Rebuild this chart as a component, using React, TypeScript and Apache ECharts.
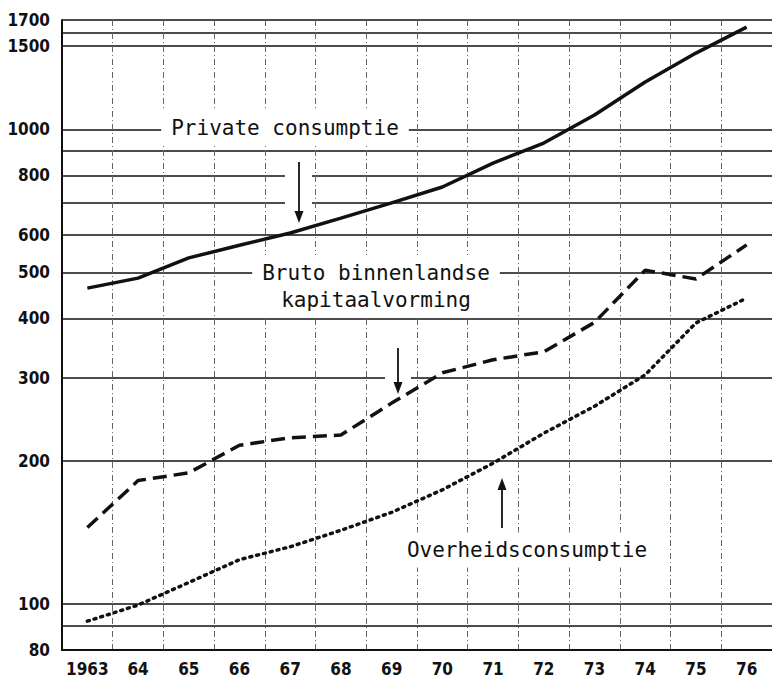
import React, { useEffect, useRef } from "react";
import * as echarts from "echarts";

const years = ["1963", "64", "65", "66", "67", "68", "69", "70", "71", "72", "73", "74", "75", "76"];
const privateConsumptie = [463, 486, 536, 570, 605, 650, 700, 756, 849, 936, 1072, 1258, 1448, 1642];
const brutoKapitaalvorming = [145, 182, 189, 216, 224, 227, 265, 307, 327, 340, 392, 505, 484, 571];
const overheidsconsumptie = [92, 99.5, 111, 124, 132, 143, 156, 174, 198, 229, 261, 304, 391, 441];
const gridValues = [80, 90, 100, 200, 300, 400, 500, 600, 700, 800, 900, 1000, 1500, 1600, 1700];
const labelValues = [80, 100, 200, 300, 400, 500, 600, 800, 1000, 1500, 1700];

const axisFont = "'DejaVu Sans Condensed', 'Liberation Sans Narrow', sans-serif";
const noteFont = "21px 'DejaVu Sans Mono', 'Liberation Mono', monospace";

export default function App() {
  const ref = useRef<HTMLDivElement>(null);
  useEffect(() => {
    if (!ref.current) return;
    const chart = echarts.init(ref.current, null, { renderer: "svg" });
    const arrow = (x: number, y1: number, y2: number) => {
      const dir = y2 > y1 ? 1 : -1;
      return [
        { type: "line", z: 20, shape: { x1: x, y1, x2: x, y2: y2 - dir * 8 }, style: { stroke: "#111", lineWidth: 1.8 } },
        {
          type: "polygon", z: 20,
          shape: { points: [[x - 4.5, y2 - dir * 12], [x + 4.5, y2 - dir * 12], [x, y2]] },
          style: { fill: "#111" },
        },
      ];
    };
    const note = (text: string, x: number, y: number) => ({
      type: "text", z: 20, x, y,
      style: {
        text, font: noteFont, fill: "#111", align: "center", verticalAlign: "middle",
        backgroundColor: "#fff", padding: [4, 10, 4, 10], lineHeight: 27,
      },
    });
    chart.setOption({
      animation: false,
      backgroundColor: "#fff",
      grid: { left: 62, top: 20, bottom: 33, right: -7, containLabel: false },
      xAxis: {
        type: "category",
        data: years,
        boundaryGap: true,
        axisLine: { show: true, lineStyle: { color: "#111", width: 2 } },
        axisTick: { show: false, interval: 0 },
        axisLabel: { interval: 0, margin: 10, color: "#111", fontFamily: axisFont, fontWeight: "bold", fontSize: 17 },
        splitLine: { show: true, interval: 0, lineStyle: { color: "#666", width: 1, type: [6, 3, 1, 3] } },
      },
      yAxis: {
        type: "log",
        logBase: 10,
        min: 80,
        max: 1700,
        axisLine: { show: true, lineStyle: { color: "#111", width: 2 } },
        axisTick: { show: false, customValues: gridValues },
        axisLabel: {
          customValues: labelValues,
          formatter: (v: number) => String(Math.round(v)),
          margin: 12, color: "#111", fontFamily: axisFont, fontWeight: "bold", fontSize: 17,
        },
        splitLine: { show: true, lineStyle: { color: "#111", width: 1.6 } },
      },
      series: [
        {
          name: "Private consumptie", type: "line", data: privateConsumptie, symbol: "none",
          lineStyle: { color: "#111", width: 3.5 },
        },
        {
          name: "Bruto binnenlandse kapitaalvorming", type: "line", data: brutoKapitaalvorming, symbol: "none",
          lineStyle: { color: "#111", width: 3.5, type: [14, 7] },
        },
        {
          name: "Overheidsconsumptie", type: "line", data: overheidsconsumptie, symbol: "none",
          lineStyle: { color: "#111", width: 3.5, type: [2, 5], cap: "round" },
        },
      ],
      graphic: [
        { type: "rect", z: 15, shape: { x: 285, y: 165, width: 27, height: 50 }, style: { fill: "#fff" } },
        { type: "rect", z: 15, shape: { x: 385, y: 352, width: 26, height: 38 }, style: { fill: "#fff" } },
        note("Private consumptie", 285, 128),
        note("Bruto binnenlandse\nkapitaalvorming", 376, 286),
        note("Overheidsconsumptie", 527, 550),
        ...arrow(299, 162, 223),
        ...arrow(398, 348, 394),
        ...arrow(502, 528, 478),
      ],
    });
    return () => chart.dispose();
  }, []);
  return <div ref={ref} style={{ position: "absolute", left: 0, top: 0, width: 772, height: 683 }} />;
}
